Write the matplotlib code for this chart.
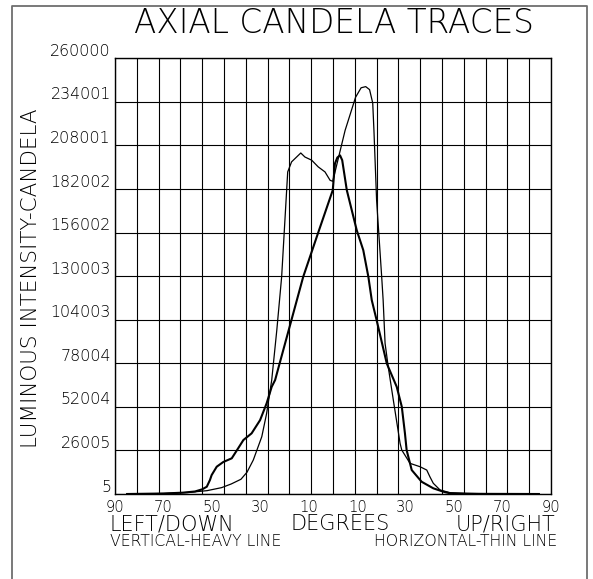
import matplotlib
matplotlib.use("Agg")
import matplotlib.pyplot as plt
from matplotlib import transforms
from matplotlib.lines import Line2D

# ---------------- data ----------------
deg_vertical = [-85, -70, -62, -57, -54, -52.1, -50.8, -50.1, -48.0, -45.3, -41.8, -39.1,
                -37.0, -33.6, -30.1, -27.4, -25.3, -23.9, -12.3, -6.2, -0.1, 0.8, 1.8,
                2.9, 3.8, 5.7, 9.8, 12.5, 14.6, 16.0, 18.0, 22.2, 26.3, 28.4, 29.7, 30.4,
                32.5, 36.6, 41.4, 45.5, 48.3, 60, 85]
cd_vertical = [0, 300, 800, 1500, 2800, 4350, 8350, 11300, 16300, 19100, 21300, 27400,
               32200, 36200, 44100, 54100, 64000, 68000, 129600, 155600, 181300, 197200, 200800,
               202100, 199200, 181300, 157400, 145500, 129600, 115700, 103800, 77900, 64000, 52100, 36200, 26200,
               14300, 7300, 3400, 1400, 400, 100, 0]

deg_horizontal = [-85, -70, -60, -52, -46, -42, -38, -35.5, -32.9, -29.4, -27.4, -25.3,
                  -23.2, -21.2, -18.7, -17.1, -13.3, -11.6, -8.8, -6.1, -3.3, -1.2, -0.1,
                  5.0, 6.6, 9.3, 11.6, 13.5, 15.1, 16.4, 16.9, 18.0, 20.1, 20.7, 21.5, 22.8,
                  24.9, 27.7, 28.4, 31.8, 35.9, 38.7, 40.0, 41.4, 44.2, 48.3, 55, 85]
cd_horizontal = [0, 300, 900, 2000, 3800, 6000, 8800, 13000, 20300, 34200, 48100, 68000,
                 97800, 129600, 192200, 198200, 203500, 201100, 199200, 195200, 192200, 187200, 186600,
                 217000, 224300, 236700, 242400, 243100, 241300, 233300, 217000, 175300, 129600, 115700, 89900, 75900,
                 56100, 30200, 26200, 18300, 16300, 14300, 10300, 6400, 2400, 800, 300, 0]

y_ticks = [5, 26005, 52004, 78004, 104003, 130003, 156002, 182002, 208001, 234001, 260000]
x_tick_pos = [-90, -70, -50, -30, -10, 10, 30, 50, 70, 90]
x_tick_labels = ["90", "70", "50", "30", "10", "10", "30", "50", "70", "90"]

title = "AXIAL CANDELA TRACES"
ylabel = "LUMINOUS INTENSITY-CANDELA"

# ---------------- figure ----------------
W, H = 593, 579
fig = plt.figure(figsize=(W / 100, H / 100), dpi=100)
FONT = "DejaVu Sans"
WT = 200

def fx(x):
    return x / W

def fy(y):
    return 1 - y / H

L, R, T, B = 115, 551, 58.3, 494
ax = fig.add_axes([fx(L), fy(B), (R - L) / W, (B - T) / H])
ax.set_xlim(-90, 90)
ax.set_ylim(y_ticks[0], y_ticks[-1])

# grid
for gx in range(-90, 91, 9):
    ax.axvline(gx, color="black", lw=0.8, zorder=1)
for gy in y_ticks:
    ax.axhline(gy, color="black", lw=0.8, zorder=1)

ax.plot(deg_vertical, cd_vertical, color="black", lw=1.5, zorder=3)
ax.plot(deg_horizontal, cd_horizontal, color="black", lw=0.9, zorder=3)

ax.set_xticks([])
ax.set_yticks([])
for s in ax.spines.values():
    s.set_linewidth(1.0)
    s.set_color("black")

# y tick labels
ytr = transforms.blended_transform_factory(fig.transFigure, ax.transData) + \
    transforms.ScaledTranslation(0, 2.5 / 100, fig.dpi_scale_trans)
for v in y_ticks:
    ax.text(fx(111), v, str(v), transform=ytr, ha="right", va="baseline",
            fontsize=11.4, family=FONT, weight=WT, color="black")

# x tick labels
xtr = transforms.blended_transform_factory(ax.transData, fig.transFigure)
for p, lab in zip(x_tick_pos, x_tick_labels):
    ax.text(p, fy(511.7), lab, transform=xtr, ha="center", va="baseline",
            fontsize=10.6, family=FONT, weight=WT, color="black")

# titles and captions
fig.text(fx(333.5), fy(33.3), title, ha="center", va="baseline", fontsize=23.5,
         family=FONT, weight=WT, color="black")
fig.text(fx(110), fy(530.5), "LEFT/DOWN", ha="left", va="baseline", fontsize=15,
         family=FONT, weight=WT, color="black")
fig.text(fx(340), fy(530.5), "DEGREES", ha="center", va="baseline", fontsize=15,
         family=FONT, weight=WT, color="black")
fig.text(fx(555), fy(530.5), "UP/RIGHT", ha="right", va="baseline", fontsize=15,
         family=FONT, weight=WT, color="black")
fig.text(fx(110), fy(545.5), "VERTICAL-HEAVY LINE", ha="left", va="baseline", fontsize=11.3,
         family=FONT, weight=WT, color="black")
fig.text(fx(557), fy(545.5), "HORIZONTAL-THIN LINE", ha="right", va="baseline", fontsize=11.3,
         family=FONT, weight=WT, color="black")
fig.text(fx(37.3), fy(278), ylabel, ha="center", va="baseline", rotation=90,
         rotation_mode="anchor", fontsize=15.5, family=FONT, weight=WT, color="black")

# outer border (open at bottom, extends past the image)
border_x = [fx(12), fx(12), fx(587), fx(587)]
border_y = [fy(H + 5), fy(5.5), fy(5.5), fy(H + 5)]
fig.add_artist(Line2D(border_x, border_y, transform=fig.transFigure, color="#6e6e6e", lw=1.3))

fig.savefig("out.png", dpi=100)
